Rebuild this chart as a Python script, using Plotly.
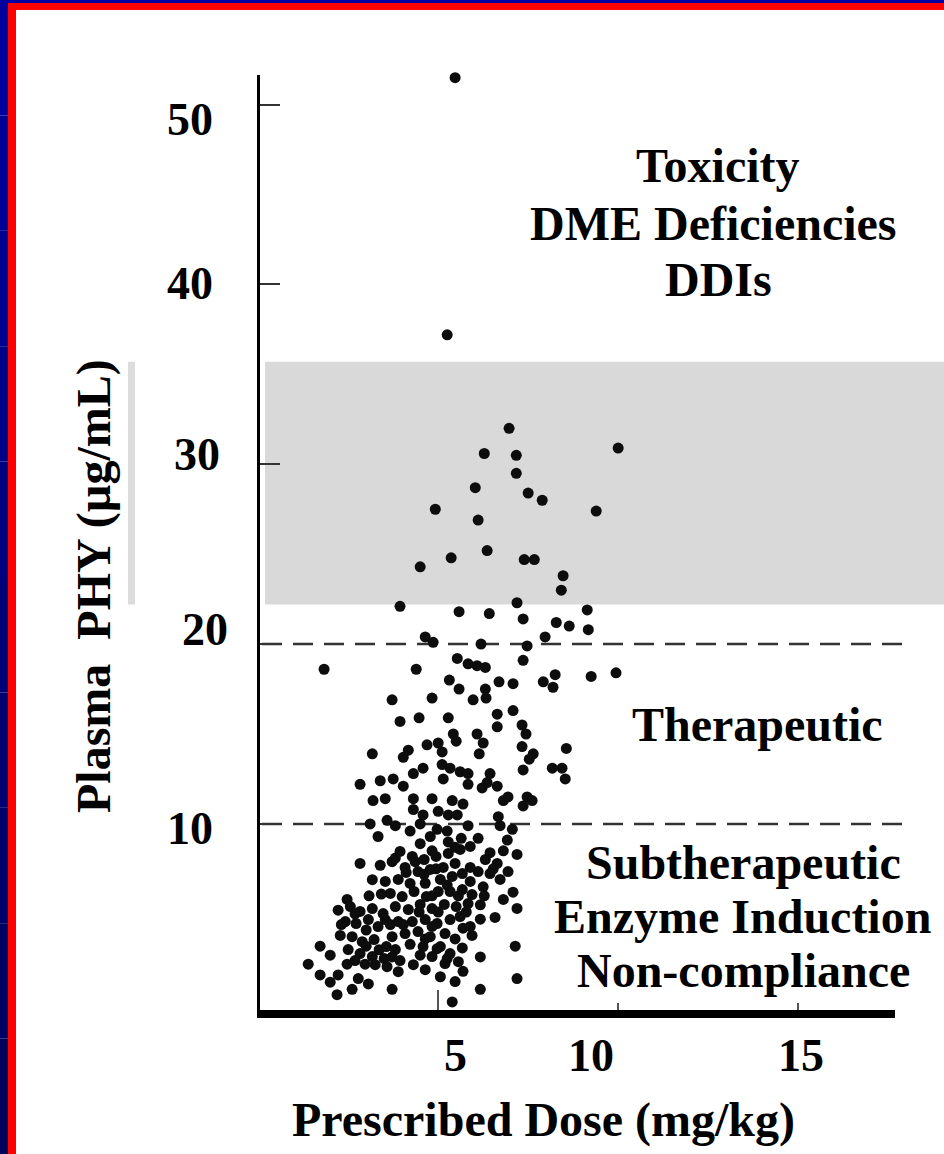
import plotly.graph_objects as go

# ---------------- data ----------------
dose = [
    5.47, 5.25, 6.97, 10.0, 6.28, 7.17, 7.17, 6.03, 7.5, 7.89, 4.92, 9.39, 6.11, 6.36, 5.36, 7.39, 7.67, 4.5,
    8.47, 8.42, 3.94, 7.19, 5.58, 6.42, 9.14, 7.36, 8.28, 8.64, 9.17, 7.97, 4.64, 4.86, 6.19, 7.47, 1.83, 4.39,
    5.53, 5.83, 6.08, 6.31, 7.36, 9.25, 9.94, 7.92, 8.25, 8.19, 5.31, 5.58, 6.69, 7.08, 6.31, 6.33, 3.72, 4.83,
    5.97, 6.64, 7.08, 3.94, 4.47, 5.28, 6.64, 7.33, 7.44, 5.42, 5.5, 6.08, 6.25, 6.14, 5.0, 5.11, 4.69, 4.17,
    4.03, 3.17, 7.33, 7.64, 7.53, 8.56, 7.36, 8.17, 8.44, 8.53, 6.44, 4.58, 5.11, 5.33, 5.61, 5.83, 5.83, 4.31,
    4.03, 5.14, 2.83, 3.39, 3.75, 6.22, 6.36, 6.64, 6.94, 6.81, 7.47, 7.61, 7.36, 3.19, 3.53, 4.31, 4.83, 5.39,
    5.69, 4.31, 4.58, 5.0, 5.28, 5.53, 6.67, 3.11, 3.58, 3.81, 4.22, 4.97, 5.25, 5.83, 6.72, 7.06, 3.33, 5.64,
    6.11, 6.92, 4.5, 4.83, 2.83, 6.44, 6.81, 7.19, 6.53, 7.08, 7.19, 6.81, 6.25, 6.58, 6.17, 5.94, 5.69, 6.17,
    5.69, 6.17, 7.14, 7.19, 5.39, 1.39, 1.72, 2.0, 2.22, 2.19, 2.61, 2.78, 3.06, 3.72, 2.47, 2.47,
    3.94, 4.28, 4.61, 4.94, 5.28, 5.47, 5.14, 4.78, 4.44, 4.08, 3.89, 4.22, 5.06, 5.39, 5.67, 5.89, 6.11,
    3.67, 4.0, 4.33, 4.67, 5.0, 5.33, 5.67, 5.94, 3.81, 4.17, 4.5, 4.83, 5.17, 5.5, 5.83, 3.53, 3.89, 4.28,
    4.64, 4.97, 5.33, 5.61, 4.08, 4.44, 4.78, 5.19, 3.72,
    2.56, 2.83, 3.17, 3.47, 2.42, 2.72, 3.06, 3.33, 2.61, 2.89, 3.22, 3.56, 2.5, 2.83, 3.17, 3.5, 3.81,
    5.06, 5.33, 5.56, 5.19, 4.83, 4.64, 5.06, 5.47,
    6.31, 6.64, 6.94, 6.72, 6.44, 5.89, 5.61,
    3.25, 3.58, 3.89, 4.31, 4.58, 4.97, 5.25,
    3.72, 4.36, 5.28, 3.53, 4.64, 4.83, 5.89, 5.89, 3.08, 3.42, 2.28, 2.22, 4.22, 4.5, 3.94, 2.97, 2.0,
    1.72, 5.47, 6.17,
    3.81, 4.11, 4.61, 4.94, 5.25, 5.56, 4.83, 4.47, 5.0, 4.03, 3.67, 3.0, 2.69, 2.31, 3.0, 3.36, 3.72,
    2.69, 4.64, 5.67, 5.78, 6.28, 4.5, 4.78, 5.47, 3.39, 3.17,
]
plasma = [
    51.5, 37.2, 32.0, 30.9, 30.6, 30.5, 29.5, 28.7, 28.4, 28.0, 27.5, 27.4, 26.9, 25.2, 24.8, 24.7, 24.7, 24.3,
    23.8, 23.0, 22.1, 22.3, 21.8, 21.7, 21.9, 21.4, 21.2, 21.0, 20.8, 20.4, 20.4, 20.1, 20.0, 19.9, 18.6, 18.6,
    19.2, 18.9, 18.8, 18.7, 19.1, 18.2, 18.4, 17.9, 18.3, 17.6, 18.0, 17.5, 17.9, 17.8, 17.5, 17.0, 16.9, 17.0,
    16.9, 16.1, 16.3, 15.7, 15.9, 15.9, 15.4, 15.5, 15.0, 15.0, 14.6, 15.0, 14.5, 13.9, 14.5, 14.0, 14.4, 14.1,
    13.7, 13.9, 14.3, 13.9, 13.6, 14.2, 13.0, 13.1, 13.1, 12.5, 12.8, 13.1, 13.3, 13.1, 12.9, 12.8, 12.2, 12.8,
    12.1, 12.5, 12.2, 12.4, 12.5, 12.0, 12.3, 12.1, 11.5, 11.3, 11.5, 11.3, 11.0, 11.3, 11.4, 11.4, 11.4, 11.3,
    11.1, 10.8, 10.5, 10.7, 10.5, 10.5, 10.4, 10.0, 10.2, 9.9, 9.6, 9.7, 9.6, 9.9, 9.9, 9.7, 9.3, 9.2,
    9.2, 9.1, 8.9, 8.5, 7.8, 8.4, 8.5, 8.3, 7.5, 6.2, 5.3, 5.8, 6.5, 4.8, 4.7, 3.8, 4.2, 2.6,
    1.8, 0.8, 3.2, 1.4, 0.1, 2.2, 1.6, 1.2, 1.6, 0.5, 0.8, 1.4, 1.1, 0.8, 2.2, 5.8,
    8.47, 8.19, 8.02, 8.19, 8.36, 7.8, 7.58, 7.47, 7.35, 7.58, 6.91, 6.69, 6.91, 7.08, 7.24, 7.58, 7.35,
    6.13, 5.96, 6.24, 5.96, 6.24, 6.24, 6.35, 6.07, 5.4, 5.24, 5.52, 5.29, 5.52, 5.4, 5.57, 4.68, 4.57, 4.57,
    4.68, 4.46, 4.68, 4.85, 3.9, 4.01, 3.73, 3.9, 3.73,
    5.4, 5.13, 5.29, 5.01, 4.57, 4.46, 4.68, 4.29, 3.73, 3.45, 3.57, 3.18, 3.01, 2.79, 2.62, 2.51, 3.01,
    3.18, 2.79, 2.34, 2.23, 2.62, 1.89, 1.5, 1.23,
    8.02, 7.8, 7.35, 6.91, 7.24, 8.75, 8.58,
    2.17, 2.06, 1.78, 2.17, 3.18, 3.06, 2.51,
    7.9, 7.9, 9.0, 6.8, 6.7, 4.3, 4.3, 6.8, 6.0, 6.1, 3.8, 5.2, 3.3, 2.7, 2.4, 2.2, 2.7,
    3.2, 3.6, 5.5,
    8.1, 7.3, 7.2, 7.5, 6.6, 6.0, 6.0, 5.1, 5.1, 4.4, 4.4, 4.1, 5.0, 4.4, 3.2, 3.0, 2.6,
    2.4, 3.6, 3.1, 5.1, 6.0, 10.0, 9.3, 8.7, 7.7, 6.9,
]

x_tick_values = [5, 10, 15]
x_tick_labels = ["5", "10", "15"]
y_tick_values = [10, 20, 30, 40, 50]
y_tick_labels = ["10", "20", "30", "40", "50"]

threshold_levels = [10, 20]          # dashed lines (µg/mL)
toxic_band = [22.2, 35.7]            # shaded band (µg/mL)

region_lines = [
    "Toxicity", "DME Deficiencies", "DDIs",
    "Therapeutic",
    "Subtherapeutic", "Enzyme Induction", "Non-compliance",
]

x_title = "Prescribed Dose (mg/kg)"
y_title = "Plasma\u00a0\u00a0PHY (\u00b5g/mL)"

# ---------------- layout geometry ----------------
W, H = 944, 1154
ML, MR, MT, MB = 260, 49, 75, 144
PW = W - ML - MR
PH = H - MT - MB


def px(xp):
    return (xp - ML) / PW


def py(yp):
    return (H - MB - yp) / PH


FONT = "Times New Roman, Liberation Serif, Times, serif"

fig = go.Figure()
fig.add_trace(go.Scatter(
    x=dose, y=plasma, mode="markers",
    marker=dict(size=11, color="#0d0d0d", line=dict(width=0)),
    cliponaxis=False, showlegend=False, hoverinfo="skip",
))

shapes = []
# shaded band
shapes.append(dict(type="rect", xref="paper", yref="y", x0=px(265), x1=px(944),
                   y0=toxic_band[0], y1=toxic_band[1], fillcolor="#D9D9D9",
                   line=dict(width=0), layer="below"))
shapes.append(dict(type="rect", xref="paper", yref="y", x0=px(128), x1=px(135),
                   y0=toxic_band[0], y1=toxic_band[1], fillcolor="#DCDCDC",
                   line=dict(width=0), layer="below"))
# dashed threshold lines
line_ends = [902, 908]
for lvl, xe in zip(threshold_levels, line_ends):
    shapes.append(dict(type="line", xref="paper", yref="y", x0=px(262), x1=px(xe),
                       y0=lvl, y1=lvl, line=dict(color="#333333", width=2.5, dash="20px,11px"),
                       layer="below"))
# white label boxes covering the dots
shapes.append(dict(type="rect", xref="paper", yref="paper", x0=px(572), x1=px(944),
                   y0=py(782), y1=py(700), fillcolor="white", line=dict(width=0), layer="above"))
shapes.append(dict(type="rect", xref="paper", yref="paper", x0=px(523), x1=px(944),
                   y0=py(1003), y1=py(826), fillcolor="white", line=dict(width=0), layer="above"))

# frame border (left and top)
n = 10
for i in range(n):
    y0p, y1p = H * i / n, H * (i + 1) / n
    b = int(160 - 70 * (i + 0.5) / n)
    shapes.append(dict(type="rect", xref="paper", yref="paper", x0=px(0), x1=px(8),
                       y0=py(y1p), y1=py(y0p), fillcolor=f"rgb(0,0,{b})",
                       line=dict(width=0), layer="above"))
shapes.append(dict(type="rect", xref="paper", yref="paper", x0=px(0), x1=px(W),
                   y0=py(3), y1=py(0), fillcolor="rgb(0,0,160)", line=dict(width=0), layer="above"))
shapes.append(dict(type="rect", xref="paper", yref="paper", x0=px(8), x1=px(16),
                   y0=py(H), y1=py(3), fillcolor="#FF0000", line=dict(width=0), layer="above"))
shapes.append(dict(type="rect", xref="paper", yref="paper", x0=px(8), x1=px(W),
                   y0=py(10), y1=py(3), fillcolor="#FF0000", line=dict(width=0), layer="above"))

annotations = []
# tick labels (placed where the reference prints them)
x_label_px = [455, 591, 801]
for lab, xp in zip(x_tick_labels, x_label_px):
    annotations.append(dict(text=f"<b>{lab}</b>", xref="paper", yref="paper", x=px(xp), y=py(1055),
                            showarrow=False, xanchor="center", yanchor="middle",
                            font=dict(family=FONT, size=46, color="black")))
y_label_px = [(190, 828), (205, 630), (197, 454), (190, 283), (190, 120)]
for lab, (xp, yp) in zip(y_tick_labels, y_label_px):
    annotations.append(dict(text=f"<b>{lab}</b>", xref="paper", yref="paper", x=px(xp), y=py(yp),
                            showarrow=False, xanchor="center", yanchor="middle",
                            font=dict(family=FONT, size=46, color="black")))
# region labels
region_px = [(718, 165), (713, 224), (718, 279), (757, 724), (743, 862), (742, 916), (743, 970)]
for txt, (xp, yp) in zip(region_lines, region_px):
    annotations.append(dict(text=f"<b>{txt}</b>", xref="paper", yref="paper", x=px(xp), y=py(yp),
                            showarrow=False, xanchor="center", yanchor="middle",
                            font=dict(family=FONT, size=48, color="black")))
# axis titles
annotations.append(dict(text=f"<b>{x_title}</b>", xref="paper", yref="paper", x=px(543), y=py(1120),
                        showarrow=False, xanchor="center", yanchor="middle",
                        font=dict(family=FONT, size=48, color="black")))
annotations.append(dict(text=f"<b>{y_title}</b>", xref="paper", yref="paper", x=px(94), y=py(586),
                        showarrow=False, xanchor="center", yanchor="middle", textangle=-90,
                        font=dict(family=FONT, size=48, color="black")))

fig.update_layout(
    width=W, height=H,
    margin=dict(l=ML, r=MR, t=MT, b=MB, pad=0),
    paper_bgcolor="white", plot_bgcolor="white",
    showlegend=False,
    shapes=shapes, annotations=annotations,
    xaxis=dict(range=[0.05, 17.69], showgrid=False, zeroline=False,
               showline=True, linewidth=8, linecolor="black",
               ticks="inside", tickvals=x_tick_values, ticklen=20, tickwidth=1.5,
               tickcolor="#555555", showticklabels=False, fixedrange=True),
    yaxis=dict(range=[-0.35, 51.65], showgrid=False, zeroline=False,
               showline=True, linewidth=3, linecolor="black",
               ticks="inside", tickvals=y_tick_values, ticklen=20, tickwidth=2,
               tickcolor="#333333", showticklabels=False, fixedrange=True),
)

fig.write_html(
    "out.html",
    config={"displayModeBar": False, "staticPlot": True},
    post_script="document.body.style.margin='0';document.body.style.padding='0';"
                "document.documentElement.style.overflow='hidden';",
)
